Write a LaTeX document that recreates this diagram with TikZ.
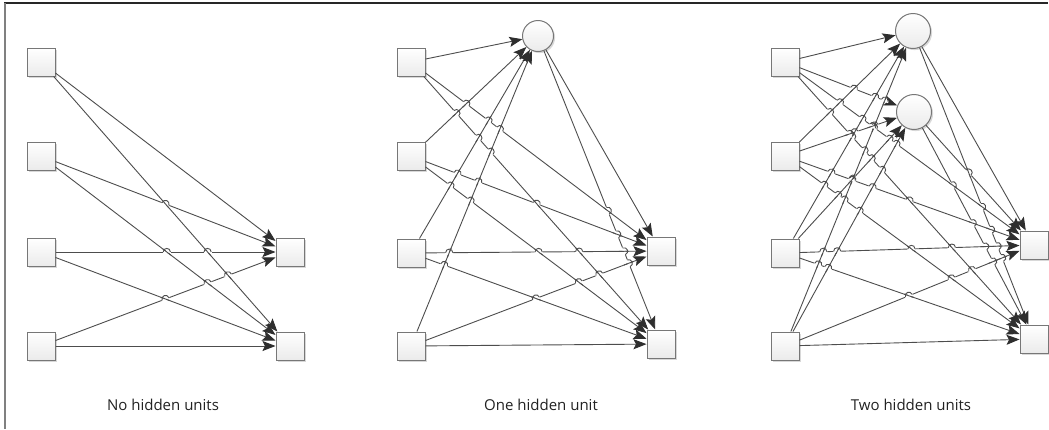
\documentclass[tikz,border=0pt]{standalone}
\usepackage{fontspec}
\setmainfont{Open Sans}
\usetikzlibrary{arrows.meta,shadows}
\definecolor{linkc}{HTML}{4D4D4D}
\definecolor{tipc}{HTML}{2E2E2E}
\definecolor{boxdraw}{HTML}{777777}
\definecolor{txtc}{HTML}{222222}
\newcommand\lw{0.9pt}
\newcommand\hopr{3.6}
\newcommand\mknode[5]{%
  \node[#1, minimum size=#5pt] (#2) at (#3,#4) {};%
  \expandafter\xdef\csname pX#2\endcsname{#3}%
  \expandafter\xdef\csname pY#2\endcsname{#4}}
\newcommand\pxof[1]{\csname pX#1\endcsname}
\newcommand\pyof[1]{\csname pY#1\endcsname}
\gdef\seglist{}
\newcommand\hop[2]{%
  \edef\Qxa{\pxof{#1}}\edef\Qya{\pyof{#1}}%
  \edef\Qxb{\pxof{#2}}\edef\Qyb{\pyof{#2}}%
  \pgfmathsetmacro\hdx{(\Pxb-\Pxa)/100}%
  \pgfmathsetmacro\hdy{(\Pyb-\Pya)/100}%
  \pgfmathsetmacro\hex{(\Qxb-\Qxa)/100}%
  \pgfmathsetmacro\hey{(\Qyb-\Qya)/100}%
  \pgfmathsetmacro\hwx{(\Qxa-\Pxa)/100}%
  \pgfmathsetmacro\hwy{(\Qya-\Pya)/100}%
  \pgfmathsetmacro\hden{(\hdx)*(\hey)-(\hdy)*(\hex)}%
  \pgfmathsetmacro\hok{abs(\hden)>0.01}%
  \ifdim\hok pt>0.5pt
    \pgfmathsetmacro\hT{((\hwx)*(\hey)-(\hwy)*(\hex))/(\hden)}%
    \pgfmathsetmacro\hU{((\hwx)*(\hdy)-(\hwy)*(\hdx))/(\hden)}%
    \pgfmathsetmacro\hT{max(-1,min(2,\hT))}%
    \pgfmathsetmacro\hU{max(-1,min(2,\hU))}%
    \pgfmathsetmacro\hlP{veclen(\hdx,\hdy)*100}%
    \pgfmathsetmacro\hlQ{veclen(\hex,\hey)*100}%
    \pgfmathsetmacro\hok{((\hT)*\hlP>22)&&((1-(\hT))*\hlP>22)&&((\hU)*\hlQ>22)&&((1-(\hU))*\hlQ>22)}%
    \ifdim\hok pt>0.5pt
      \pgfmathsetmacro\hX{\Pxa+(\hT)*(\hdx)*100}%
      \pgfmathsetmacro\hY{\Pya+(\hT)*(\hdy)*100}%
      \pgfmathsetmacro\hux{(\hdx)*100/\hlP}%
      \pgfmathsetmacro\huy{(\hdy)*100/\hlP}%
      \pgfmathsetmacro\hvx{(\hex)*100/\hlQ}%
      \pgfmathsetmacro\hvy{(\hey)*100/\hlQ}%
      \draw[white,line width=2.3pt] ({\hX-(\hopr+0.4)*(\hux)},{\hY-(\hopr+0.4)*(\huy)}) -- ({\hX+(\hopr+0.4)*(\hux)},{\hY+(\hopr+0.4)*(\huy)});
      \draw[linkc,line width=\lw] ({\hX-5*(\hvx)},{\hY-5*(\hvy)}) -- ({\hX+5*(\hvx)},{\hY+5*(\hvy)});
      \draw[linkc,line width=\lw] ({\hX-\hopr*(\hux)},{\hY-\hopr*(\huy)}) .. controls ({\hX-\hopr*(\hux)+1.33*\hopr*(\huy)},{\hY-\hopr*(\huy)-1.33*\hopr*(\hux)}) and ({\hX+\hopr*(\hux)+1.33*\hopr*(\huy)},{\hY+\hopr*(\huy)-1.33*\hopr*(\hux)}) .. ({\hX+\hopr*(\hux)},{\hY+\hopr*(\huy)});
    \fi
  \fi}
\newcommand\conn[2]{%
  \draw[link] (#1) -- (#2);%
  \edef\Pxa{\pxof{#1}}\edef\Pya{\pyof{#1}}%
  \edef\Pxb{\pxof{#2}}\edef\Pyb{\pyof{#2}}%
  \ifx\seglist\empty\else
    \foreach \qa/\qb in \seglist {\hop{\qa}{\qb}}%
  \fi
  \ifx\seglist\empty\xdef\seglist{#1/#2}\else\xdef\seglist{\seglist,#1/#2}\fi}
\tikzset{
  unitbox/.style={rectangle, draw=boxdraw, line width=1pt, inner sep=0pt,
    top color=white, bottom color=gray!16,
    drop shadow={shadow xshift=1.6pt, shadow yshift=-1.6pt, opacity=0.3, fill=gray}},
  unitcirc/.style={circle, draw=boxdraw, line width=1pt, inner sep=0pt,
    top color=white, bottom color=gray!16,
    drop shadow={shadow xshift=1.6pt, shadow yshift=-1.6pt, opacity=0.3, fill=gray}},
  link/.style={draw=linkc, line width=\lw,
    -{Stealth[length=13pt, width=10pt, inset=2.5pt, color=tipc]}},
  caption/.style={font=\fontsize{15}{17}\selectfont, text=txtc, inner sep=0pt}
}
\begin{document}
\begin{tikzpicture}[x=1pt, y=-1pt]
\useasboundingbox (0,0) rectangle (1049,429);
\fill[white] (0,0) rectangle (1049,429);
\coordinate (ftl) at (5,3);
\coordinate (ftr) at (1048,3);
\coordinate (fbl) at (5,429);
\draw[black!85, line width=1.4pt] ([xshift=-1pt]ftl) -- (ftr);
\draw[gray, line width=2.2pt] (ftl) -- (fbl);
% ---------- No hidden units ----------
\mknode{unitbox}{la}{41}{62}{28}
\mknode{unitbox}{lb}{41}{156}{28}
\mknode{unitbox}{lc}{41}{252}{28}
\mknode{unitbox}{ld}{41}{346}{28}
\mknode{unitbox}{lo}{290}{252}{28}
\mknode{unitbox}{lp}{290}{346}{28}
\gdef\seglist{}
\conn{la}{lo}\conn{la}{lp}
\conn{lb}{lo}\conn{lb}{lp}
\conn{lc}{lo}\conn{lc}{lp}
\conn{ld}{lo}\conn{ld}{lp}
\node[caption] (cap1) at (163,405) {No hidden units};
% ---------- One hidden unit ----------
\mknode{unitbox}{ma}{411}{62}{28}
\mknode{unitbox}{mb}{411}{156}{28}
\mknode{unitbox}{mc}{411}{253}{28}
\mknode{unitbox}{md}{411}{346}{28}
\mknode{unitcirc}{mh}{538}{36}{31}
\mknode{unitbox}{mo}{661}{251}{28}
\mknode{unitbox}{mp}{661}{344}{28}
\gdef\seglist{}
\conn{ma}{mh}\conn{mb}{mh}\conn{mc}{mh}\conn{md}{mh}
\conn{ma}{mo}\conn{ma}{mp}
\conn{mb}{mo}\conn{mb}{mp}
\conn{mc}{mo}\conn{mc}{mp}
\conn{md}{mo}\conn{md}{mp}
\conn{mh}{mo}\conn{mh}{mp}
\node[caption] (cap2) at (541,405) {One hidden unit};
% ---------- Two hidden units ----------
\mknode{unitbox}{ra}{785}{62}{28}
\mknode{unitbox}{rb}{785}{156}{28}
\mknode{unitbox}{rc}{785}{253}{28}
\mknode{unitbox}{rd}{785}{346}{28}
\mknode{unitcirc}{rh}{913}{31}{35}
\mknode{unitcirc}{rk}{914}{112}{35}
\mknode{unitbox}{ro}{1034}{245}{28}
\mknode{unitbox}{rp}{1034}{339}{28}
\gdef\seglist{}
\conn{ra}{rh}\conn{rb}{rh}\conn{rc}{rh}\conn{rd}{rh}
\conn{ra}{rk}\conn{rb}{rk}\conn{rc}{rk}\conn{rd}{rk}
\conn{ra}{ro}\conn{ra}{rp}
\conn{rb}{ro}\conn{rb}{rp}
\conn{rc}{ro}\conn{rc}{rp}
\conn{rd}{ro}\conn{rd}{rp}
\conn{rh}{ro}\conn{rh}{rp}
\conn{rk}{ro}\conn{rk}{rp}
\node[caption] (cap3) at (911,405) {Two hidden units};
\end{tikzpicture}
\end{document}
